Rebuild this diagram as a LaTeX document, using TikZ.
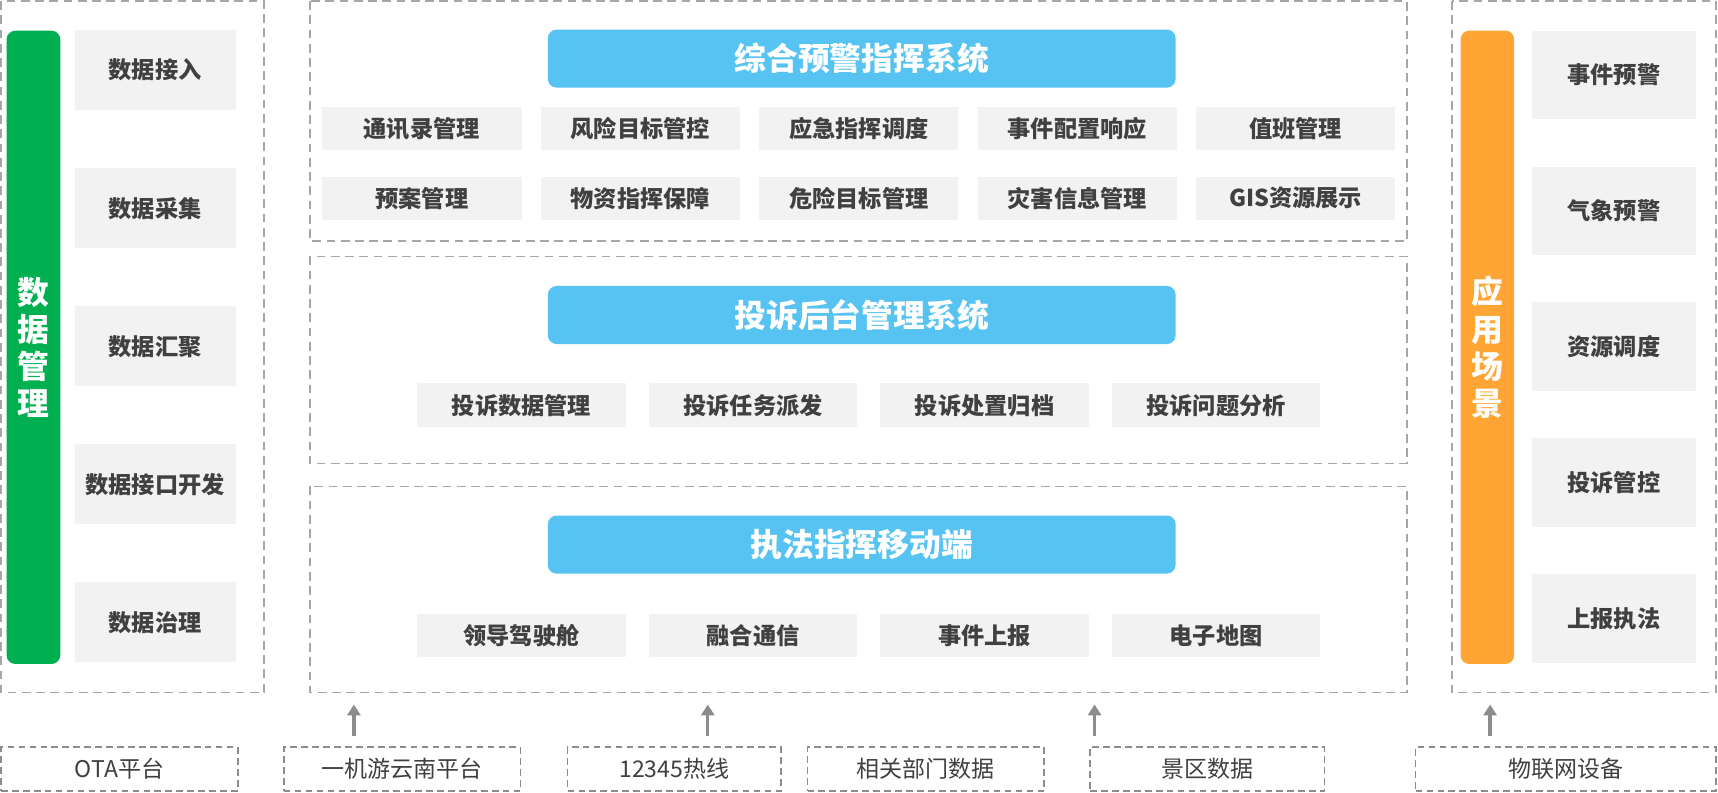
\documentclass[tikz,border=0pt]{standalone}
\usepackage{fontspec}
\setmainfont{Noto Sans CJK SC}
\usetikzlibrary{arrows.meta, positioning}
\definecolor{rahmen}{HTML}{A6A6A6}
\definecolor{fondo}{HTML}{F2F2F2}
\definecolor{texto}{HTML}{404040}
\definecolor{verde}{HTML}{00B050}
\definecolor{naranja}{HTML}{FFA535}
\definecolor{celeste}{HTML}{56C3F2}
\definecolor{flecha}{HTML}{8C8C8C}
\tikzstyle{marco} = [draw=rahmen, line width=0.75pt, dash pattern=on 4pt off 2.5pt]
\tikzstyle{fuente} = [draw=flecha, line width=0.7pt, dash pattern=on 3pt off 2pt, minimum height=20pt, inner sep=0pt, text=texto, font=\fontsize{10.5pt}{12pt}\selectfont]
\tikzstyle{barra} = [rounded corners=4pt, minimum width=24.5pt, minimum height=289pt, inner sep=0pt, text=white, align=center, font=\bfseries\fontsize{14.5pt}{17pt}\selectfont]
\tikzstyle{titulo} = [fill=celeste, rounded corners=4pt, minimum width=286.5pt, minimum height=26.5pt, inner sep=0pt, text=white, font=\bfseries\fontsize{14.5pt}{16pt}\selectfont]
\tikzstyle{modulo} = [fill=fondo, inner sep=0pt, text=texto, font=\bfseries\fontsize{10.6pt}{13pt}\selectfont]
\tikzstyle{subir} = [draw=flecha, line width=1.5pt, -{Triangle[length=5pt, width=6pt]}]

\begin{document}
\begin{tikzpicture}[x=0.5pt, y=-0.5pt]
	\useasboundingbox (0,0) rectangle (1568,723);
	% marcos
	\draw[marco] (1,1) rectangle (241,632);
	\draw[marco] (283,1) rectangle (1284,220);
	\draw[marco] (283,234) rectangle (1284,423);
	\draw[marco] (283,444) rectangle (1284,632);
	\draw[marco] (1325,1) rectangle (1566,632);

	\node[barra, fill=verde] (datos) at (30.5,317) {数\\据\\管\\理};
	\foreach \t [count=\i] in {数据接入,数据采集,数据汇聚,数据接口开发,数据治理}
		\node[modulo, minimum width=73.5pt, minimum height=36.5pt] (izq\i) at (141.5,{64+126*(\i-1)}) {\t};

	\node[barra, fill=naranja] (escena) at (1357.5,317) {应\\用\\场\\景};
	\foreach \t [count=\i] in {事件预警,气象预警,资源调度,投诉管控,上报执法}
		\node[modulo, minimum width=75pt, minimum height=40.5pt] (der\i) at (1473,{68.5+124*(\i-1)}) {\t};

	\node[titulo] (alerta) at (786.5,53.5) {综合预警指挥系统};
	\foreach \t [count=\i] in {通讯录管理,风险目标管控,应急指挥调度,事件配置响应,值班管理}
		\node[modulo, minimum width=91pt, minimum height=19.5pt] (ua\i) at ({385+199.4*(\i-1)},117.5) {\t};
	\foreach \t [count=\i] in {预案管理,物资指挥保障,危险目标管理,灾害信息管理,GIS资源展示}
		\node[modulo, minimum width=91pt, minimum height=19.5pt] (ub\i) at ({385+199.4*(\i-1)},181) {\t};

	\node[titulo] (queja) at (786.5,287.5) {投诉后台管理系统};
	\foreach \t [count=\i] in {投诉数据管理,投诉任务派发,投诉处置归档,投诉问题分析}
		\node[modulo, minimum width=95pt, minimum height=20pt] (q\i) at ({476+211.3*(\i-1)},370) {\t};

	\node[titulo] (movil) at (786.5,497) {执法指挥移动端};
	\foreach \t [count=\i] in {领导驾驶舱,融合通信,事件上报,电子地图}
		\node[modulo, minimum width=95pt, minimum height=20pt] (m\i) at ({476+211.3*(\i-1)},580) {\t};

	% fuentes
	\node[fuente, minimum width=108pt] (ota) at (109,702) {OTA平台};
	\node[fuente, minimum width=108pt] (yunnan) at (367,702) {一机游云南平台};
	\node[fuente, minimum width=97.5pt] (linea) at (615.5,702) {12345热线};
	\node[fuente, minimum width=108pt] (depto) at (845,702) {相关部门数据};
	\node[fuente, minimum width=107pt] (zona) at (1102,702) {景区数据};
	\node[fuente, minimum width=137pt] (iot) at (1429,702) {物联网设备};

	\foreach \x [count=\i] in {323,646,999,1360} {
		\coordinate (de\i) at (\x,672);
		\coordinate (a\i) at (\x,643);
		\draw[subir] (de\i) -- (a\i);
	}
\end{tikzpicture}
\end{document}
